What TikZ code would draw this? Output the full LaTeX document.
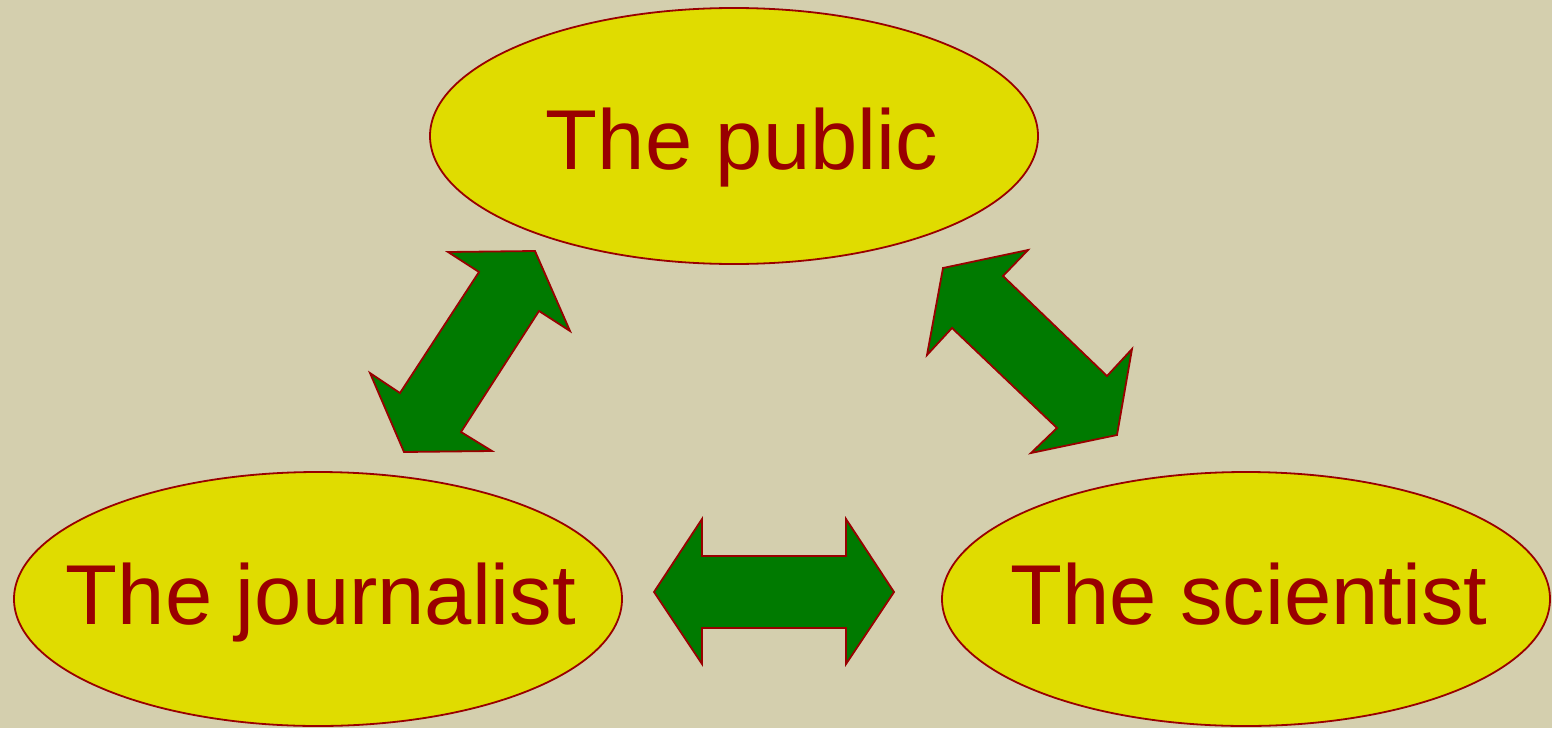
\documentclass[tikz,border=0pt]{standalone}
\usepackage{fontspec}
\setmainfont{Liberation Sans}
\usetikzlibrary{shapes.geometric}
\definecolor{bgtan}{HTML}{D4CFAE}
\definecolor{ellfill}{HTML}{E0DC00}
\definecolor{darkred}{HTML}{990000}
\definecolor{arrgreen}{HTML}{007A00}
\tikzset{
  party/.style={ellipse, draw=darkred, fill=ellfill, line width=1.8pt, inner sep=0pt},
  label/.style={anchor=base, text=darkred, font=\fontsize{85}{100}\selectfont, inner sep=0pt},
  dblarrow/.style={draw=darkred, fill=arrgreen, line width=1.8pt, line join=miter}
}
\begin{document}
\begin{tikzpicture}[x=1pt,y=-1pt]
\fill[bgtan] (0,0) rectangle (1552,728);
\useasboundingbox (0,0) rectangle (1552,728);
% ellipses
\node[party, minimum width=608pt, minimum height=256pt] (public) at (734,136) {};
\node[party, minimum width=608pt, minimum height=254pt] (journalist) at (318,599) {};
\node[party, minimum width=608pt, minimum height=254pt] (scientist) at (1246,599) {};
% labels
\node[label] (publicT) at (742,169) {The public};
\node[label] (journalistT) at (321,624) {The journalist};
\node[label] (scientistT) at (1249,624) {The scientist};
% double arrows
\draw[dblarrow] (448,252) -- (479,272) -- (400,393) -- (370,373) -- (404,452) -- (492,451) -- (461,432) -- (539,311) -- (570,331) -- (535,251) -- cycle;
\draw[dblarrow] (943,268) -- (1028,250) -- (1003,276) -- (1107,376) -- (1132,349) -- (1117,435) -- (1031,453) -- (1057,428) -- (952,328) -- (927,355) -- cycle;
\draw[dblarrow] (654,592) -- (702,519) -- (702,556) -- (846,556) -- (846,519) -- (894,592) -- (846,664) -- (846,628) -- (702,628) -- (702,664) -- cycle;
\end{tikzpicture}
\end{document}
